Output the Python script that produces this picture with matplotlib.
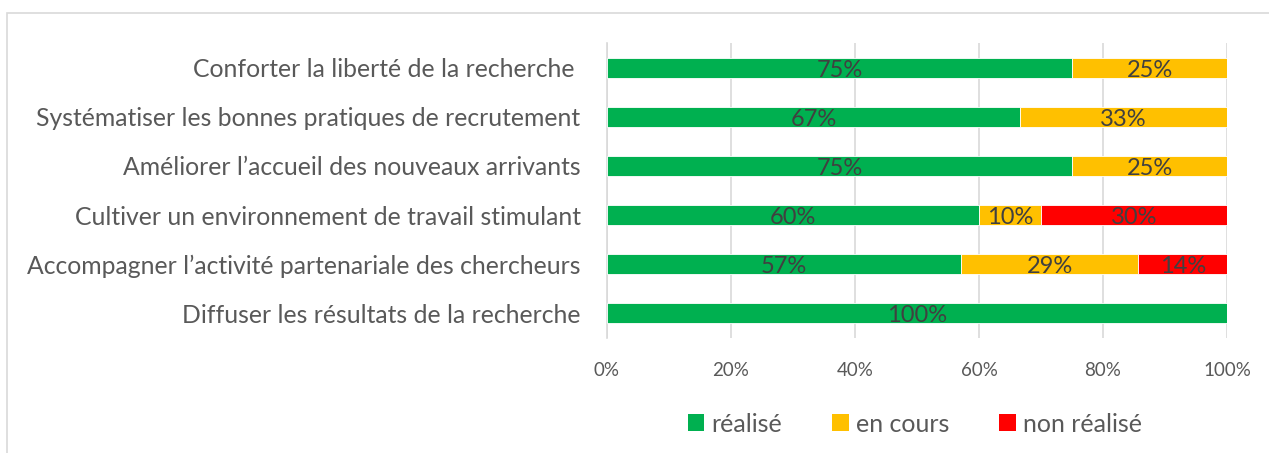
import numpy as np
import matplotlib.pyplot as plt
from matplotlib.patches import Rectangle, Patch

# data
categories = ["Conforter la liberté de la recherche ",
              "Systématiser les bonnes pratiques de recrutement",
              "Améliorer l’accueil des nouveaux arrivants",
              "Cultiver un environnement de travail stimulant",
              "Accompagner l’activité partenariale des chercheurs",
              "Diffuser les résultats de la recherche"]
realise = [3/4, 2/3, 3/4, 0.60, 4/7, 1.0]
en_cours = [1/4, 1/3, 1/4, 0.10, 2/7, 0.0]
non_realise = [0.0, 0.0, 0.0, 0.30, 1/7, 0.0]
series_names = ["réalisé", "en cours", "non réalisé"]
colors = ["#00B050", "#FFC000", "#FF0000"]
xticks = [0, 0.2, 0.4, 0.6, 0.8, 1.0]

plt.rcParams['font.family'] = ['Lato', 'DejaVu Sans']

fig = plt.figure(figsize=(12.69, 4.53), dpi=100)
fig.patches.append(Rectangle((7/1269, -0.01), 1.0, 1 - 13/453 + 0.01,
                             transform=fig.transFigure, fill=False,
                             edgecolor="#d9d9d9", linewidth=1.2))
ax = fig.add_axes([607/1269, 1 - 338/453, 620/1269, 295/453])

y = np.arange(len(categories))
left = np.zeros(len(categories))
for vals, name, col in zip([realise, en_cours, non_realise], series_names, colors):
    vals = np.array(vals)
    ax.barh(y, vals, left=left, height=0.41, color=col, label=name,
            edgecolor="white", linewidth=0.6, zorder=3)
    for yi, l, v in zip(y, left, vals):
        if v > 0:
            ax.text(l + v / 2, yi + 0.05, f"{round(v * 100)}%", ha="center",
                    va="center", fontsize=17, color="#404040", zorder=4)
    left += vals

ax.set_xlim(0, 1)
ax.set_ylim(5.5, -0.5)
ax.set_yticks(y)
ax.set_yticklabels(categories, fontsize=17.8, color="#595959")
ax.set_xticks(xticks)
ax.set_xticklabels([f"{int(t * 100)}%" for t in xticks], fontsize=13.5, color="#595959")
ax.tick_params(length=0, axis="both")
ax.tick_params(axis="y", pad=19)
ax.tick_params(axis="x", pad=17)
ax.grid(axis="x", color="#d9d9d9", linewidth=1.2, zorder=0)
for s in ["top", "right", "bottom"]:
    ax.spines[s].set_visible(False)
ax.spines["left"].set_color("#d9d9d9")
ax.spines["left"].set_linewidth(1.2)

handles = [Patch(facecolor=c, label=n) for c, n in zip(colors, series_names)]
fig.legend(handles=handles, loc="center", bbox_to_anchor=(915/1269, 1 - 424/453),
           ncol=3, frameon=False, fontsize=18, handlelength=0.65, handleheight=0.65,
           handletextpad=0.3, columnspacing=2.0, labelcolor="#595959")

fig.savefig("out.png", dpi=100)
